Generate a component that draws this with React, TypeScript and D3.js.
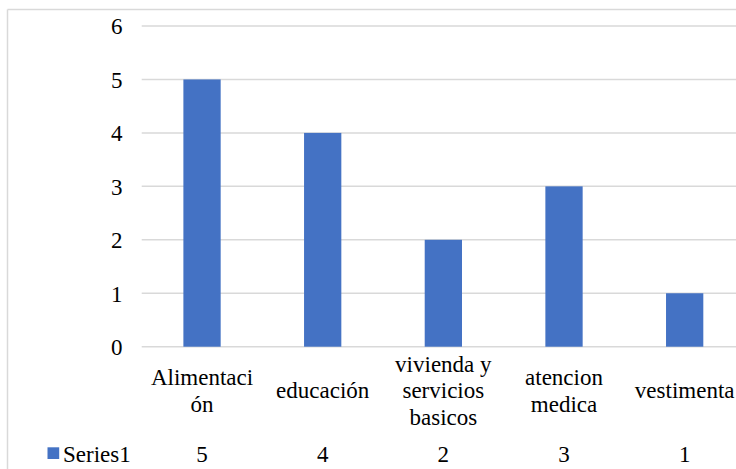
import React, { useEffect, useRef } from "react";
import * as d3 from "d3";

const categories = ["Alimentación", "educación", "vivienda y servicios basicos", "atencion medica", "vestimenta"];
const categoryLabelLines = [
  ["Alimentaci", "ón"],
  ["educación"],
  ["vivienda y", "servicios", "basicos"],
  ["atencion", "medica"],
  ["vestimenta"],
];
const seriesName = "Series1";
const values = [5, 4, 2, 3, 1];
const yTicks = [0, 1, 2, 3, 4, 5, 6];

const W = 736;
const H = 469;
const FS = 23;
const LINE = 26.7;
const GRID = "#d9d9d9";
const BAR = "#4472C4";
const FONT = "Liberation Serif";

export default function App() {
  const ref = useRef<SVGSVGElement | null>(null);

  useEffect(() => {
    const svg = d3.select(ref.current);
    svg.selectAll("*").remove();

    const x = d3
      .scaleBand<string>()
      .domain(categories)
      .range([141.7, 745])
      .paddingInner(0.691)
      .paddingOuter(0.3455);
    const y = d3.scaleLinear().domain([0, 6]).range([346.7, 26]);
    const cx = (c: string) => (x(c) as number) + x.bandwidth() / 2;

    svg.append("rect").attr("width", W).attr("height", H).attr("fill", "#fff");
    svg.append("line").attr("x1", 7.5).attr("y1", 9.5).attr("x2", W).attr("y2", 9.5)
      .attr("stroke", GRID).attr("stroke-width", 1.5);
    svg.append("line").attr("x1", 7.5).attr("y1", 9.5).attr("x2", 7.5).attr("y2", H)
      .attr("stroke", GRID).attr("stroke-width", 1.5);

    svg.selectAll("line.grid").data(yTicks).join("line").attr("class", "grid")
      .attr("x1", 141.7).attr("x2", W)
      .attr("y1", (d) => y(d)).attr("y2", (d) => y(d))
      .attr("stroke", GRID).attr("stroke-width", 1.5);

    const txt = (sel: any) =>
      sel.attr("font-family", FONT).attr("font-size", FS).attr("fill", "#000");

    svg.selectAll("text.ytick").data(yTicks).join("text").attr("class", "ytick")
      .attr("x", 122.5).attr("y", (d) => y(d) + 8.3).attr("text-anchor", "end")
      .call(txt).text((d) => String(d));

    svg.selectAll("rect.bar").data(categories).join("rect").attr("class", "bar")
      .attr("x", (c) => x(c) as number)
      .attr("y", (_c, i) => y(values[i]))
      .attr("width", x.bandwidth())
      .attr("height", (_c, i) => y(0) - y(values[i]))
      .attr("fill", BAR);

    categories.forEach((c, i) => {
      const lines = categoryLabelLines[i];
      const first = 398.3 - ((lines.length - 1) * LINE) / 2;
      const t = svg.append("text").attr("text-anchor", "middle").call(txt);
      lines.forEach((l, j) => {
        t.append("tspan").attr("x", cx(c)).attr("y", first + j * LINE).text(l);
      });
    });

    svg.append("rect").attr("x", 47.5).attr("y", 447.3).attr("width", 11.7).attr("height", 11.7).attr("fill", BAR);
    svg.append("text").attr("x", 63).attr("y", 461.7).call(txt).text(seriesName);

    svg.selectAll("text.val").data(categories).join("text").attr("class", "val")
      .attr("x", (c) => cx(c)).attr("y", 461.7).attr("text-anchor", "middle")
      .call(txt).text((_c, i) => String(values[i]));
  }, []);

  return (
    <svg
      ref={ref}
      width={W}
      height={H}
      style={{ position: "absolute", left: 0, top: 0, background: "#fff" }}
    />
  );
}
